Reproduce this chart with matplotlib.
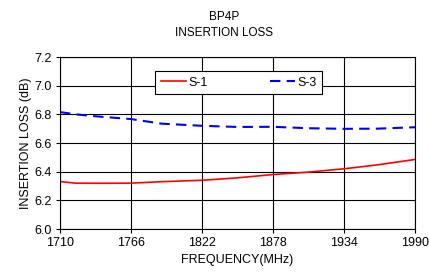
import matplotlib
matplotlib.use("Agg")
import matplotlib.pyplot as plt

freq_s1 = [1710, 1722, 1740, 1766, 1790, 1822, 1850, 1878, 1906, 1934, 1960, 1990]
s1 = [6.331, 6.320, 6.319, 6.320, 6.330, 6.340, 6.357, 6.380, 6.397, 6.420, 6.447, 6.485]
freq_s3 = [1710, 1722, 1740, 1766, 1790, 1822, 1850, 1878, 1906, 1934, 1960, 1990]
s3 = [6.816, 6.800, 6.785, 6.767, 6.735, 6.720, 6.712, 6.713, 6.703, 6.699, 6.700, 6.710]
xticks = [1710, 1766, 1822, 1878, 1934, 1990]
yticks = [6.0, 6.2, 6.4, 6.6, 6.8, 7.0, 7.2]

plt.rcParams['font.family'] = ['Liberation Sans', 'DejaVu Sans']
fig = plt.figure(figsize=(4.29, 2.77), dpi=100)
ax = fig.add_axes([60/429, 1-229/277, 355/429, 172/277])
ax.plot(freq_s1, s1, color='#ff0000', lw=1.2, label='S-1')
ax.plot(freq_s3, s3, color='#0000ff', lw=1.5, ls=(0, (5, 3)), label='S-3')
ax.set_xlim(1710, 1990)
ax.set_ylim(6.0, 7.2)
ax.set_xticks(xticks)
ax.set_yticks(yticks)
ax.set_yticklabels([f"{v:.1f}" for v in yticks])
ax.grid(True, color='black', lw=0.8)
ax.tick_params(labelsize=9, length=3, color='black', width=0.8, pad=3)
for s in ax.spines.values():
    s.set_color('black'); s.set_linewidth(0.8)
ax.set_xlabel('FREQUENCY(MHz)', fontsize=9, labelpad=3)
ax.set_ylabel('INSERTION LOSS (dB)', fontsize=9, labelpad=2)
fig.text(224/429, 1-17/277, 'BP4P', ha='center', va='center', fontsize=8.5)
fig.text(224/429, 1-33/277, 'INSERTION LOSS', ha='center', va='center', fontsize=8.5)
leg = ax.legend(ncol=2, loc='upper left', bbox_to_anchor=((155-60)/355, 1-(71-57)/172), fontsize=9,
                frameon=True, fancybox=False, edgecolor='black', framealpha=1, borderpad=0.45,
                handlelength=2.0, columnspacing=5.0, handletextpad=0.2, borderaxespad=0)
leg.get_frame().set_linewidth(0.8)
fig.savefig('out.png', dpi=100)
